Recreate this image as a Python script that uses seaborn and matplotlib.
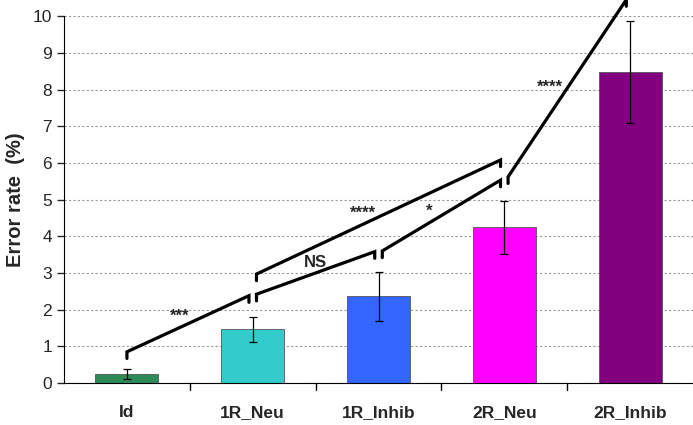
import numpy as np
import pandas as pd
import matplotlib
matplotlib.use("Agg")
import matplotlib.pyplot as plt
import seaborn as sns

# Datos del gráfico
categorias = ["Id", "1R_Neu", "1R_Inhib", "2R_Neu", "2R_Inhib"]
tasa_error = [0.25, 1.46, 2.36, 4.24, 8.48]
error_std = [0.13, 0.35, 0.67, 0.72, 1.38]
colores = ["#2e8b57", "#33cccc", "#3366ff", "#ff00ff", "#800080"]

# Comparaciones: (cat inicio, y inicio, cat fin, y fin, etiqueta, x etiqueta, y etiqueta)
comp_ini = [0, 1, 1, 2, 3]
comp_fin = [1, 2, 3, 3, 4]
comp_y_ini = [0.85, 2.42, 2.97, 3.6, 5.62]
comp_y_fin = [2.38, 3.58, 6.08, 5.53, 10.45]
comp_texto = ["***", "NS", "****", "*", "****"]
comp_x_texto = [0.42, 1.5, 1.88, 2.4, 3.36]
comp_y_texto = [1.83, 3.28, 4.62, 4.68, 8.05]

df = pd.DataFrame({"grupo": categorias, "error": tasa_error})

sns.set_style("white")
plt.rcParams["font.family"] = ["Liberation Sans", "DejaVu Sans"]

fig = plt.figure(figsize=(6.93, 4.25), dpi=100)
ax = fig.add_axes([0.0924, 0.0988, 0.9076, 0.8632])

sns.barplot(data=df, x="grupo", y="error", hue="grupo", palette=colores,
            saturation=1, width=0.5, errorbar=None, legend=False, ax=ax, zorder=2)
for p in ax.patches:
    p.set_edgecolor("#555555")
    p.set_linewidth(0.6)

x = np.arange(len(categorias))
ax.errorbar(x, tasa_error, yerr=error_std, fmt="none", ecolor="black",
            elinewidth=0.9, capsize=3, capthick=0.9, zorder=3)

# Líneas de significancia
tick = 0.18
for i0, i1, y0, y1, txt, tx, ty in zip(comp_ini, comp_fin, comp_y_ini, comp_y_fin,
                                        comp_texto, comp_x_texto, comp_y_texto):
    x0 = i0 + 0.03 if i0 > 0 else i0
    x1 = i1 - 0.03
    ax.plot([x0, x0, x1, x1], [y0 - tick, y0, y1, y1 - tick], color="black",
            lw=2.3, clip_on=False, zorder=4, solid_joinstyle="miter")
    ax.text(tx, ty, txt, ha="center", va="center", fontsize=12, fontweight="bold")

ax.set_ylim(0, 10)
ax.set_xlim(-0.5, 4.5)
ax.set_yticks(range(0, 11))
ax.yaxis.grid(True, linestyle=(0, (2, 2)), color="#999999", lw=0.8)
ax.set_axisbelow(True)

ax.set_xticks(x)
ax.set_xticklabels(categorias, fontsize=12.5, fontweight="bold")
ax.tick_params(axis="x", length=0, pad=16)
for xs in np.arange(0.5, 4.0, 1.0):
    ax.plot([xs, xs], [0, -0.2], color="black", lw=1, clip_on=False)
ax.tick_params(axis="y", labelsize=12.5, length=5, width=1, direction="out", left=True)

ax.set_xlabel("")
ax.set_ylabel("Error rate  (%)", fontsize=14.5, fontweight="bold", labelpad=6)

for s in ["top", "right"]:
    ax.spines[s].set_visible(False)
ax.spines["left"].set_color("black")
ax.spines["bottom"].set_color("black")

fig.savefig("out.png", dpi=100)
